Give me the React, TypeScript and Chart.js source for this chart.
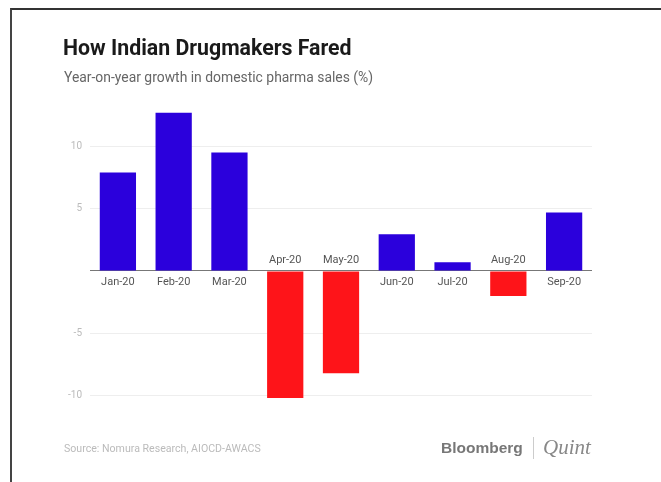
import React, { useEffect, useRef } from "react";
import { Chart, registerables } from "chart.js";

Chart.register(...registerables);

const categories = ["Jan-20", "Feb-20", "Mar-20", "Apr-20", "May-20", "Jun-20", "Jul-20", "Aug-20", "Sep-20"];
const growth = [7.9, 12.7, 9.5, -10.2, -8.2, 2.95, 0.7, -2.0, 4.7];
const yTicks = [-10, -5, 0, 5, 10];

const BLUE = "#2b00dc";
const RED = "#fe1419";

const categoryLabels = {
  id: "categoryLabels",
  afterDatasetsDraw(chart: any) {
    const { ctx } = chart;
    const xs = chart.scales.x;
    const ys = chart.scales.y;
    const y0 = ys.getPixelForValue(0);
    ctx.save();
    ctx.font = "11px Roboto";
    ctx.fillStyle = "#555";
    ctx.textAlign = "center";
    ctx.textBaseline = "middle";
    categories.forEach((c, i) => {
      const x = xs.getPixelForValue(i);
      const y = growth[i] >= 0 ? y0 + 11 : y0 - 11;
      ctx.fillText(c, x, y);
    });
    ctx.restore();
  },
};

export default function App() {
  const ref = useRef<HTMLCanvasElement>(null);
  useEffect(() => {
    if (!ref.current) return;
    const chart = new Chart(ref.current, {
      type: "bar",
      data: {
        labels: categories,
        datasets: [
          {
            data: growth,
            backgroundColor: growth.map((v) => (v >= 0 ? BLUE : RED)),
            barPercentage: 0.65,
            categoryPercentage: 1,
          },
        ],
      },
      options: {
        responsive: false,
        animation: false,
        maintainAspectRatio: false,
        layout: { padding: { left: 0, top: 109, right: 69, bottom: 61.5 } },
        plugins: { legend: { display: false }, tooltip: { enabled: false } },
        scales: {
          x: { display: false },
          y: {
            min: -12,
            max: 13,
            afterBuildTicks: (scale: any) => {
              scale.ticks = yTicks.map((v) => ({ value: v }));
            },
            afterFit: (scale: any) => {
              scale.width = 90;
            },
            border: { display: false },
            grid: {
              drawTicks: false,
              color: (c: any) => (c.tick && c.tick.value === 0 ? "#777" : "#eeeeee"),
              lineWidth: 1,
            },
            ticks: {
              padding: 8,
              color: "#bbb",
              font: { family: "Roboto", size: 10 },
              callback: (v: any) => (v === 0 ? "" : String(v)),
            },
          },
        },
      },
      plugins: [categoryLabels],
    });
    return () => chart.destroy();
  }, []);

  return (
    <div style={{ position: "absolute", left: 0, top: 0, width: 661, height: 482, background: "#fff", overflow: "hidden" }}>
      <div style={{ position: "absolute", left: 10, top: 8, width: 660, height: 480, borderTop: "2px solid #333", borderLeft: "2px solid #444" }} />
      <canvas ref={ref} width={661} height={482} style={{ position: "absolute", left: 0, top: 0 }} />
      <div style={{ position: "absolute", left: 63, top: 37.3, fontFamily: "Roboto", fontWeight: 700, fontSize: 21.3, lineHeight: "21px", color: "#1a1a1a", whiteSpace: "nowrap" }}>
        How Indian Drugmakers Fared
      </div>
      <div style={{ position: "absolute", left: 64, top: 69.8, fontFamily: "Roboto", fontSize: 13.9, lineHeight: "14px", color: "#666", whiteSpace: "nowrap" }}>
        Year-on-year growth in domestic pharma sales (%)
      </div>
      <div style={{ position: "absolute", left: 64, top: 443.7, fontFamily: "Roboto", fontSize: 10.6, lineHeight: "10.6px", color: "#bbb", whiteSpace: "nowrap" }}>
        Source: Nomura Research, AIOCD-AWACS
      </div>
      <div style={{ position: "absolute", left: 441, top: 440, fontFamily: "Liberation Sans", fontWeight: 700, fontSize: 15.5, lineHeight: "15.5px", color: "#777", whiteSpace: "nowrap" }}>
        Bloomberg
      </div>
      <div style={{ position: "absolute", left: 533, top: 437, width: 1, height: 22, background: "#ccc" }} />
      <div style={{ position: "absolute", left: 543, top: 436.5, fontFamily: "Liberation Serif", fontStyle: "italic", fontSize: 21, lineHeight: "21px", color: "#888", whiteSpace: "nowrap" }}>
        Quint
      </div>
    </div>
  );
}
